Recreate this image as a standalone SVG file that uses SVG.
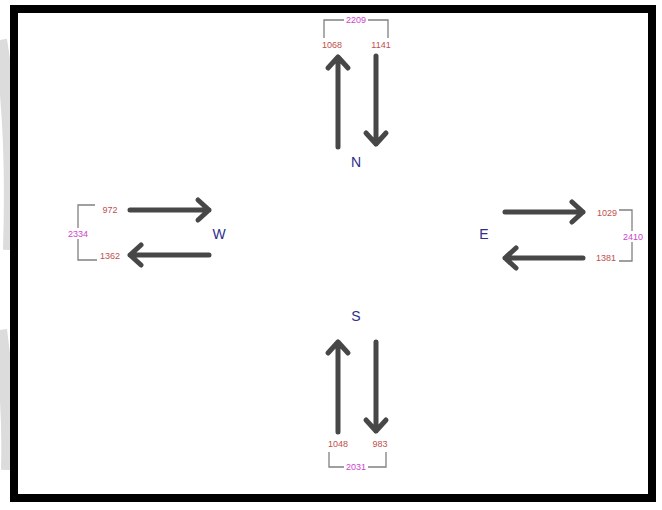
<svg xmlns="http://www.w3.org/2000/svg" width="662" height="510" viewBox="0 0 662 510">
<style>
.arrow{stroke:#474747;stroke-width:5;fill:none;stroke-linecap:round;stroke-linejoin:round}
.br{stroke:#808080;stroke-width:1.3;fill:none}
.num{font-family:"Liberation Sans",Arial,sans-serif;font-size:9px;fill:#c0504d;text-anchor:middle}
.tot{font-family:"Liberation Sans",Arial,sans-serif;font-size:9px;fill:#cc44cc;text-anchor:middle}
.lbl{font-family:"Liberation Sans",Arial,sans-serif;font-size:14px;fill:#2e2e8c;text-anchor:middle}
.bg{fill:#ffffff}
</style>
<rect x="0" y="0" width="662" height="510" fill="#ffffff"/>
<path d="M0 40 Q14 120 10 250" stroke="#dcdcdc" stroke-width="14" fill="none"/>
<path d="M0 330 Q10 400 8 470" stroke="#dcdcdc" stroke-width="14" fill="none"/>
<rect x="14" y="9" width="638" height="489" fill="#ffffff" stroke="#000000" stroke-width="8"/>

<g id="connectors">
  <!-- North -->
  <g id="n-in"><path class="arrow" d="M338 147 L338 57 M328 68 L338 57 L348 68"/></g>
  <g id="n-out"><path class="arrow" d="M376 56 L376 144 M366 133 L376 144 L386 133"/></g>
  <!-- West -->
  <g id="w-in"><path class="arrow" d="M130 210 L209 210 M198 200 L209 210 L198 220"/></g>
  <g id="w-out"><path class="arrow" d="M209 255 L130 255 M141 245 L130 255 L141 265"/></g>
  <!-- East -->
  <g id="e-out"><path class="arrow" d="M505 212 L583 212 M572 202 L583 212 L572 222"/></g>
  <g id="e-in"><path class="arrow" d="M583 258 L505 258 M516 248 L505 258 L516 268"/></g>
  <!-- South -->
  <g id="s-in"><path class="arrow" d="M338 432 L338 342 M328 353 L338 342 L348 353"/></g>
  <g id="s-out"><path class="arrow" d="M376 342 L376 431 M366 420 L376 431 L386 420"/></g>
</g>

<g id="node-N">
  <path class="br" d="M324 38 L324 20 L388 20 L388 38"/>
  <rect class="bg" x="344" y="15" width="24" height="10"/>
  <text class="tot" x="356" y="23">2209</text>
  <text class="num" x="332" y="48">1068</text>
  <text class="num" x="381" y="48">1141</text>
  <text class="lbl" x="356" y="167">N</text>
</g>

<g id="node-W">
  <path class="br" d="M95 205 L78 205 L78 260 L97 260"/>
  <rect class="bg" x="66" y="228" width="24" height="11"/>
  <text class="tot" x="78" y="237">2334</text>
  <text class="num" x="110" y="213">972</text>
  <text class="num" x="110" y="259">1362</text>
  <text class="lbl" x="219" y="239">W</text>
</g>

<g id="node-E">
  <path class="br" d="M619 210 L632 210 L632 261 L619 261"/>
  <rect class="bg" x="621" y="231" width="24" height="11"/>
  <text class="tot" x="633" y="240">2410</text>
  <text class="num" x="607" y="216">1029</text>
  <text class="num" x="606" y="261">1381</text>
  <text class="lbl" x="484" y="239">E</text>
</g>

<g id="node-S">
  <path class="br" d="M329 452 L329 467 L386 467 L386 452"/>
  <rect class="bg" x="344" y="462" width="24" height="10"/>
  <text class="tot" x="356" y="470">2031</text>
  <text class="num" x="338" y="447">1048</text>
  <text class="num" x="380" y="447">983</text>
  <text class="lbl" x="356" y="321">S</text>
</g>
</svg>
